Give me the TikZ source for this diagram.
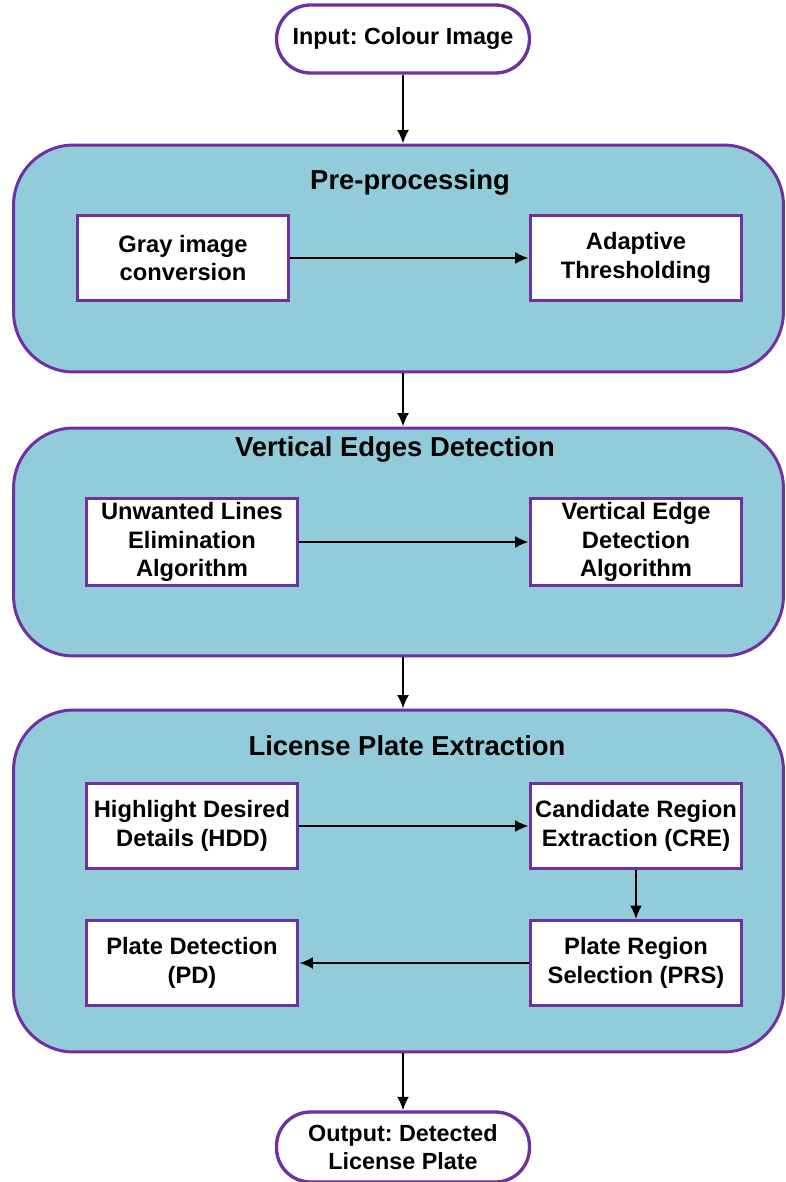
\documentclass[tikz,border=0pt]{standalone}
\usepackage{fontspec}
\setmainfont{Liberation Sans}
\usepackage{xcolor}
\usetikzlibrary{arrows.meta,positioning,fit}
\frenchspacing

\definecolor{panelblue}{RGB}{146,204,219}
\definecolor{edgepurple}{RGB}{112,48,160}

\begin{document}
\begin{tikzpicture}[
    x=0.02cm, y=-0.02cm,
    box/.style={rectangle, draw=edgepurple, line width=1.7pt, fill=white, minimum width=4.24cm, minimum height=1.7cm, align=center, inner sep=2pt, font=\fontsize{13.5}{16.3}\selectfont\bfseries},
    pill/.style={rectangle, draw=edgepurple, line width=1.9pt, fill=white, rounded corners=0.68cm, minimum width=5.06cm, minimum height=1.36cm, align=center, font=\fontsize{13.3}{15.8}\selectfont\bfseries},
    panel/.style={rectangle, draw=edgepurple, line width=1.7pt, fill=panelblue, rounded corners=1.2cm, minimum width=15.4cm},
    title/.style={font=\fontsize{15.6}{18}\selectfont\bfseries},
    arrow/.style={-{Latex[length=2.7mm,width=2.4mm]}, line width=1.1pt}
]
\useasboundingbox (0,0) rectangle (786,1182);

% Input
\node[pill] (input) at (403,39) {Input: Colour Image};

% Pre-processing
\node[panel, minimum height=4.54cm] (pre) at (398.5,258.5) {};
\node[title] (pretitle) at (410,182) {Pre-processing};
\node[box] (gray) at (183,258) {Gray image\\conversion};
\node[box] (thresh) at (636,258) {Adaptive\\Thresholding};

% Vertical edges
\node[panel, minimum height=4.56cm] (ved) at (398.5,542) {};
\node[title] (vedtitle) at (395,449) {Vertical Edges Detection};
\node[box] (unwanted) at (192,542) {Unwanted Lines\\Elimination\\Algorithm};
\node[box] (vedalg) at (636,542) {Vertical Edge\\Detection\\Algorithm};

% License plate extraction
\node[panel, minimum height=6.84cm] (lpe) at (398.5,881) {};
\node[title] (lpetitle) at (407,746) {License Plate Extraction};
\node[box] (hdd) at (192,826) {Highlight Desired\\Details (HDD)};
\node[box] (cre) at (636,826) {Candidate Region\\Extraction (CRE)};
\node[box] (prs) at (636,963) {Plate Region\\Selection (PRS)};
\node[box] (pd) at (192,963) {Plate Detection\\(PD)};

% Output
\node[pill, minimum height=1.4cm] (output) at (403,1147) {Output: Detected\\License Plate};

% Arrows
\draw[arrow] (input.south) -- (input.south |- pre.north);
\draw[arrow] (gray) -- (thresh);
\draw[arrow] (input.south |- pre.south) -- (input.south |- ved.north);
\draw[arrow] (unwanted) -- (vedalg);
\draw[arrow] (input.south |- ved.south) -- (input.south |- lpe.north);
\draw[arrow] (hdd) -- (cre);
\draw[arrow] (cre) -- (prs);
\draw[arrow] (prs) -- (pd);
\draw[arrow] (output.north |- lpe.south) -- (output.north);

\end{tikzpicture}
\end{document}
